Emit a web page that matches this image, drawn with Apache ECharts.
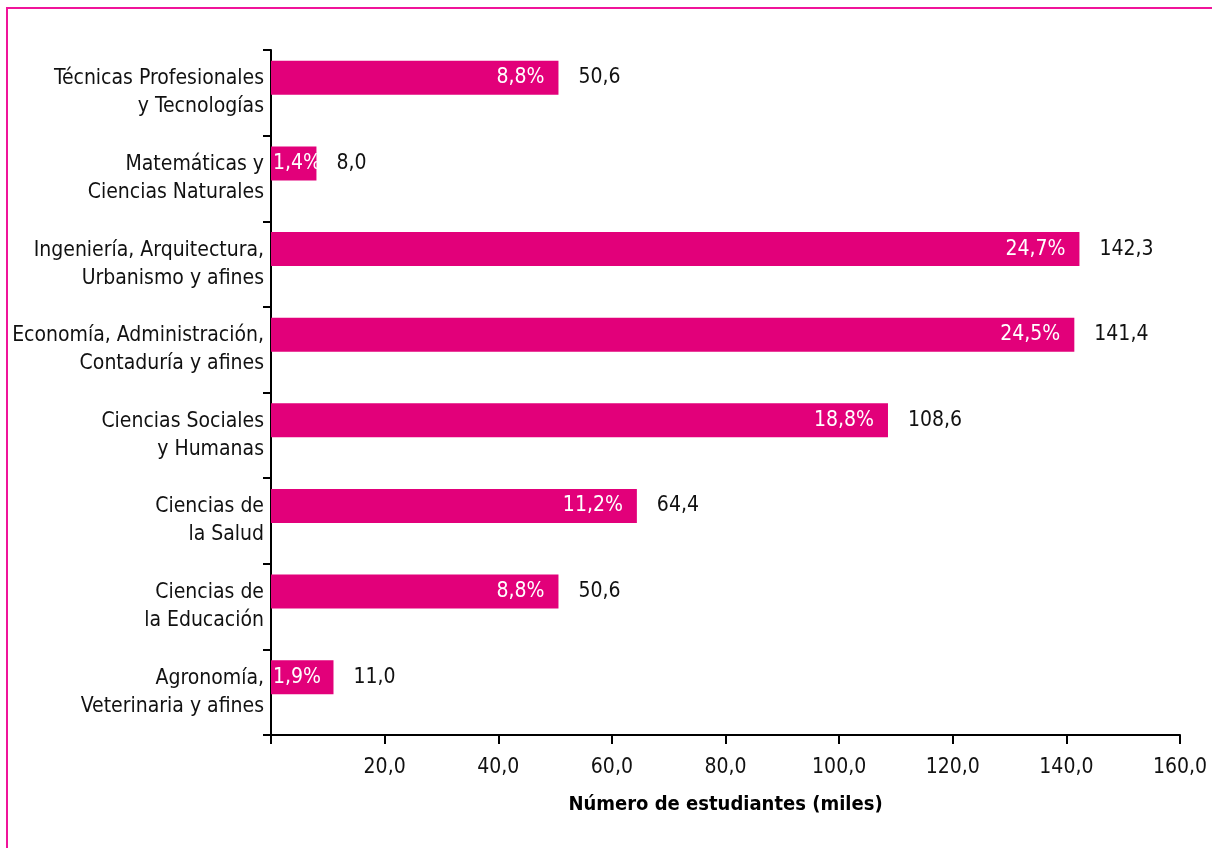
<!DOCTYPE html>
<html>
<head>
<meta charset="utf-8">
<script src="https://cdn.jsdelivr.net/npm/echarts@6/dist/echarts.min.js"></script>
<style>
  html, body { margin: 0; padding: 0; background: #fff; }
  #chart { width: 1212px; height: 848px; }
</style>
</head>
<body>
<div id="chart"></div>
<script>
// áreas de conocimiento, de arriba hacia abajo
const categories = [
  'Técnicas Profesionales\ny Tecnologías',
  'Matemáticas y\nCiencias Naturales',
  'Ingeniería, Arquitectura,\nUrbanismo y afines',
  'Economía, Administración,\nContaduría y afines',
  'Ciencias Sociales\ny Humanas',
  'Ciencias de\nla Salud',
  'Ciencias de\nla Educación',
  'Agronomía,\nVeterinaria y afines'
];
// miles de estudiantes
const students = [50.6, 8.0, 142.3, 141.4, 108.6, 64.4, 50.6, 11.0];
// participación porcentual
const shares = [8.8, 1.4, 24.7, 24.5, 18.8, 11.2, 8.8, 1.9];
const xTicks = { min: 0, max: 160, interval: 20 };

const FONT = "'Liberation Sans Narrow', 'DejaVu Sans Condensed', 'Roboto', sans-serif";
const PINK = '#E2007A';
const comma = (v, d) => v.toFixed(d).replace('.', ',');

const chart = echarts.init(document.getElementById('chart'));

// barras cortas: el porcentaje arranca desde la izquierda
const barData = students.map(v => (v < 15
  ? { value: v, label: { position: 'insideLeft', distance: 2 } }
  : v));

chart.setOption({
  backgroundColor: '#fff',
  animation: false,
  textStyle: { fontFamily: FONT },
  graphic: [{
    type: 'polyline',
    shape: { points: [[7, 848], [7, 8], [1212, 8]] },
    style: { stroke: '#F0149A', lineWidth: 2, fill: null },
    silent: true
  }],
  grid: { left: 271, right: 32, top: 50, bottom: 113 },
  xAxis: {
    type: 'value',
    min: xTicks.min,
    max: xTicks.max,
    interval: xTicks.interval,
    name: 'Número de estudiantes (miles)',
    nameLocation: 'middle',
    nameGap: 60,
    nameTextStyle: { fontFamily: FONT, fontSize: 20, fontWeight: 'bold', color: '#000' },
    axisLine: { show: true, lineStyle: { color: '#000', width: 2 } },
    axisTick: { show: true, length: 9, lineStyle: { color: '#000', width: 2 } },
    axisLabel: {
      margin: 22,
      fontSize: 21,
      color: '#111',
      fontFamily: FONT,
      formatter: v => (v === 0 ? '' : comma(v, 1))
    },
    splitLine: { show: false }
  },
  yAxis: {
    type: 'category',
    inverse: true,
    data: categories,
    axisLine: { show: true, lineStyle: { color: '#000', width: 2 } },
    axisTick: { show: true, length: 8, lineStyle: { color: '#000', width: 2 } },
    axisLabel: {
      margin: 7,
      fontSize: 21,
      lineHeight: 28,
      color: '#111',
      fontFamily: FONT,
      align: 'right'
    }
  },
  series: [
    {
      type: 'bar',
      data: barData,
      barWidth: 34,
      barGap: '0%',
      itemStyle: { color: PINK },
      label: {
        show: true,
        position: 'insideRight',
        distance: 14,
        color: '#fff',
        fontSize: 21,
        fontFamily: FONT,
        formatter: p => comma(shares[p.dataIndex], 1) + '%'
      }
    },
    {
      // espacio vacío para desplazar las barras hacia arriba dentro de cada franja
      type: 'bar',
      data: students.map(() => '-'),
      barWidth: 30,
      itemStyle: { color: 'transparent' },
      silent: true
    },
    {
      type: 'scatter',
      data: students.map((v, i) => [v, i]),
      symbolSize: 0,
      silent: true,
      itemStyle: { opacity: 1, color: '#111' },
      label: {
        show: true,
        position: 'right',
        distance: 20,
        offset: [0, -15],
        color: '#111',
        fontSize: 21,
        fontFamily: FONT,
        formatter: p => comma(p.value[0], 1)
      }
    }
  ]
});
</script>
</body>
</html>
